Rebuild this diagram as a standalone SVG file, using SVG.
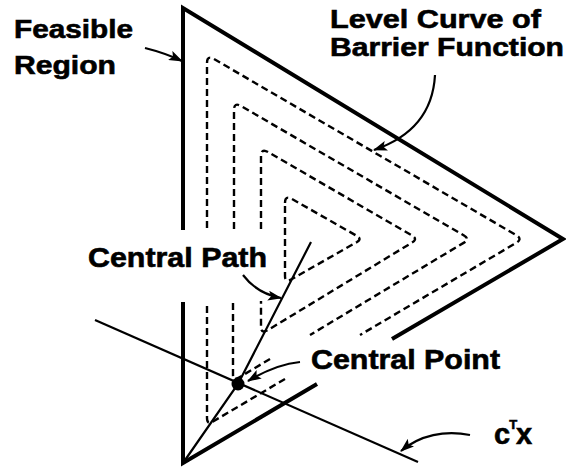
<svg xmlns="http://www.w3.org/2000/svg" width="566" height="469" viewBox="0 0 566 469">
<defs>
<marker id="ah" markerUnits="userSpaceOnUse" markerWidth="14" markerHeight="10" refX="13" refY="5" orient="auto">
<path d="M0,0 L14,5 L0,10 L3,5 Z" fill="#000"/>
</marker>
</defs>
<style>
.lbl{font-family:"Liberation Sans",Arial,sans-serif;font-weight:bold;fill:#000;stroke:#000;stroke-width:0.6}
.solid{fill:none;stroke:#000;stroke-width:4;stroke-linejoin:miter;stroke-miterlimit:10}
.dash{fill:none;stroke:#000;stroke-width:2.4;stroke-dasharray:7 4}
.thin{fill:none;stroke:#000;stroke-width:2.2}
.arr{fill:none;stroke:#000;stroke-width:2.2;marker-end:url(#ah)}
</style>
<rect width="566" height="469" fill="#fff"/>
<g id="feasible-region">
<path class="solid" d="M183,230 L183,8 L563,239 L392,339"/>
<path class="solid" d="M183,302 L183,463 L317,384"/>
</g>
<g id="level-curves">
<path class="dash" d="M207,228 L207,63 Q207,55 214,59 L516,235 Q523,239 516,243 L360,335"/>
<path class="dash" d="M285,379 L213,421.5 Q207,425 207,418 L207,302"/>
<path class="dash" d="M234,229 L234,110 Q234,102 241,106 L464,235.5 Q470,239 464,242.6 L310,335"/>
<path class="dash" d="M270,359 L239,377.5 Q233,381 233,375 L233,302"/>
<path class="dash" d="M261,229 L261,156 Q261,148 268,152 L412,235.5 Q418,239 412,242.6 L268,330 Q261,334 261,327 L261,301"/>
<path class="dash" d="M285,203 Q285,195 292,199 L357,236 Q362,239 357,242 L292,279 Q285,283 285,276 Z"/>
</g>
<g id="central-path">
<path class="thin" d="M183,463 L238,384 L311,242"/>
</g>
<g id="objective">
<path class="thin" d="M95,320 L418,462"/>
</g>
<g id="central-point">
<circle cx="238" cy="384" r="6.5" fill="#000"/>
</g>
<g id="connectors">
<path class="arr" d="M145,48 Q165,53 182,61"/>
<path class="arr" d="M435,75 C433,112 412,137 374,150"/>
<path class="arr" d="M243,275 C252,287 265,295 281,298"/>
<path class="arr" d="M300,362 C280,364 263,372 248,381"/>
<path class="arr" d="M470,435 C445,430 420,435 401,451"/>
</g>
<g id="labels">
<text class="lbl" x="14" y="38" font-size="25.5" textLength="119" lengthAdjust="spacingAndGlyphs">Feasible</text>
<text class="lbl" x="14" y="74" font-size="25.5" textLength="102" lengthAdjust="spacingAndGlyphs">Region</text>
<text class="lbl" x="330" y="28" font-size="25" textLength="211" lengthAdjust="spacingAndGlyphs">Level Curve of</text>
<text class="lbl" x="330" y="56" font-size="25" textLength="234" lengthAdjust="spacingAndGlyphs">Barrier Function</text>
<text class="lbl" x="88" y="267" font-size="27" textLength="179" lengthAdjust="spacingAndGlyphs">Central Path</text>
<text class="lbl" x="311" y="369" font-size="27" textLength="189" lengthAdjust="spacingAndGlyphs">Central Point</text>
<text class="lbl" x="494" y="444" font-size="29">c<tspan font-size="13" dx="-1" dy="-15">T</tspan><tspan dx="-1" dy="15">x</tspan></text>
</g>
</svg>
